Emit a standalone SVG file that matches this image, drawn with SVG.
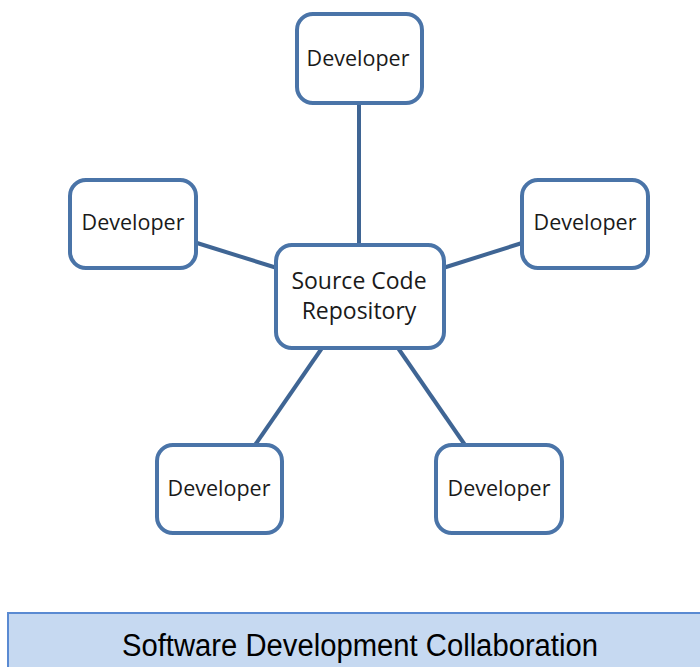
<svg xmlns="http://www.w3.org/2000/svg" width="700" height="667" viewBox="0 0 700 667">
  <style>
    .node rect { fill: #ffffff; stroke: #4a74a8; stroke-width: 4; }
    .node text { font-family: "Open Sans", "Liberation Sans", sans-serif; font-size: 21.5px; fill: #1a1a1a; text-anchor: middle; }
    #repo text { font-size: 23px; }
    .edges line { stroke: #3f6594; stroke-width: 4; }
    .banner rect { fill: #c6d9f1; stroke: #5a8ad2; stroke-width: 2; }
    .banner text { font-family: "Liberation Sans", Arial, sans-serif; font-size: 31px; fill: #000000; text-anchor: middle; }
  </style>

  <!-- connectors from the repository to each developer -->
  <g id="edges" class="edges">
    <line x1="359" y1="103" x2="359" y2="246"/>
    <line x1="197" y1="243" x2="277" y2="268"/>
    <line x1="443" y1="268" x2="522" y2="243"/>
    <line x1="322" y1="348" x2="255" y2="445"/>
    <line x1="398" y1="348" x2="465" y2="445"/>
  </g>

  <g id="repo" class="node">
    <rect x="276" y="245" width="168" height="103" rx="16"/>
    <text x="359" y="289">Source Code</text>
    <text x="359" y="319">Repository</text>
  </g>

  <g id="dev-top" class="node">
    <rect x="297" y="14" width="125" height="89" rx="16"/>
    <text x="358" y="66">Developer</text>
  </g>

  <g id="dev-left" class="node">
    <rect x="70" y="180" width="126" height="88" rx="16"/>
    <text x="133" y="230">Developer</text>
  </g>

  <g id="dev-right" class="node">
    <rect x="522" y="180" width="126" height="88" rx="16"/>
    <text x="585" y="230">Developer</text>
  </g>

  <g id="dev-bottom-left" class="node">
    <rect x="157" y="445" width="125" height="88" rx="16"/>
    <text x="219" y="496">Developer</text>
  </g>

  <g id="dev-bottom-right" class="node">
    <rect x="436" y="445" width="126" height="88" rx="16"/>
    <text x="499" y="496">Developer</text>
  </g>

  <g id="title" class="banner">
    <rect x="8" y="613" width="700" height="60"/>
    <text x="360" y="656" textLength="476" lengthAdjust="spacingAndGlyphs">Software Development Collaboration</text>
  </g>
</svg>
